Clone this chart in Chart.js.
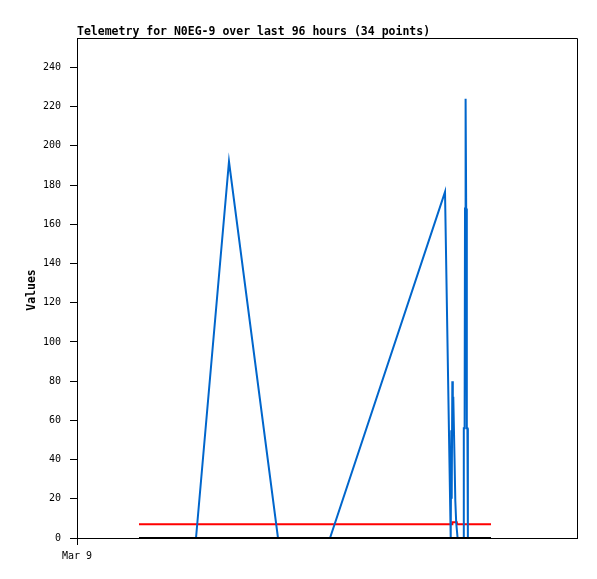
<!DOCTYPE html>
<html>
<head>
<meta charset="utf-8">
<title>Telemetry for N0EG-9</title>
<script src="https://cdn.jsdelivr.net/npm/chart.js@4/dist/chart.umd.min.js"></script>
<style>
  html, body { margin: 0; padding: 0; background: #fff; }
  canvas { display: block; }
</style>
</head>
<body>
<canvas id="chart" width="597" height="579"></canvas>
<script>
// hours since Mar 9 00:00 and readings
const blueX = [16.86, 32.37, 41.34, 54.67, 68.82, 100.10, 101.65, 101.81, 101.92, 102.09, 102.22, 102.35,
  102.68, 102.90, 103.14, 103.31, 103.52, 105.07, 105.21, 105.43, 105.54, 105.70, 105.86, 106.03,
  106.19, 106.32, 112.61];
const blueY = [0, 0, 192, 0, 0, 176.5, 0, 55, 20, 80, 60, 72,
  41, 19, 8, 8, 0, 0, 56, 56, 168, 224, 168, 56,
  56, 0, 0];
const redX = [16.86, 102.0, 102.1, 103.3, 103.4, 112.61];
const redY = [7, 7, 8, 8, 7, 7];
const blackX = [16.86, 112.61];
const blackY = [0, 0];
const xTickValues = [0];
const xTickLabels = ['Mar 9'];
const yTickValues = [0, 20, 40, 60, 80, 100, 120, 140, 160, 180, 200, 220, 240];

const toPoints = (xs, ys) => xs.map((x, i) => ({ x, y: ys[i] }));

// title, axis title and the plot frame
const decor = {
  id: 'decor',
  afterDraw(chart) {
    const { ctx, chartArea: a } = chart;
    ctx.save();
    ctx.strokeStyle = '#000';
    ctx.lineWidth = 1;
    ctx.beginPath();
    ctx.moveTo(a.left, a.top + 0.5);
    ctx.lineTo(a.right + 0.5, a.top + 0.5);
    ctx.lineTo(a.right + 0.5, a.bottom);
    ctx.stroke();

    ctx.fillStyle = '#000';
    ctx.font = 'bold 11.5px "DejaVu Sans Mono"';
    ctx.textAlign = 'left';
    ctx.textBaseline = 'alphabetic';
    ctx.fillText('Telemetry for N0EG-9 over last 96 hours (34 points)', 77, 35);

    ctx.translate(32, 290);
    ctx.rotate(-Math.PI / 2);
    ctx.textAlign = 'center';
    ctx.textBaseline = 'middle';
    ctx.fillText('Values', 0, 0);
    ctx.restore();
  }
};

new Chart(document.getElementById('chart'), {
  type: 'line',
  data: {
    datasets: [
      { data: toPoints(blackX, blackY), borderColor: '#000', borderWidth: 2 },
      { data: toPoints(blueX, blueY), borderColor: '#0066cc', borderWidth: 2 },
      { data: toPoints(redX, redY), borderColor: '#ff0000', borderWidth: 2 }
    ]
  },
  options: {
    responsive: false,
    animation: false,
    devicePixelRatio: 1,
    parsing: false,
    elements: { point: { radius: 0 }, line: { tension: 0 } },
    layout: { padding: { left: 0, top: 38, right: 20, bottom: 0 } },
    plugins: { legend: { display: false }, tooltip: { enabled: false } },
    scales: {
      x: {
        type: 'linear',
        min: 0,
        max: 136,
        afterBuildTicks: s => { s.ticks = xTickValues.map(v => ({ value: v })); },
        afterFit: s => { s.height = 41; },
        grid: { drawOnChartArea: false, drawTicks: true, tickLength: 7, color: '#000' },
        border: { display: true, color: '#000', width: 1 },
        ticks: {
          color: '#000',
          font: { family: 'DejaVu Sans Mono', size: 10 },
          padding: 5,
          maxRotation: 0,
          callback: v => xTickLabels[xTickValues.indexOf(v)] ?? ''
        }
      },
      y: {
        min: 0,
        max: 255,
        afterBuildTicks: s => { s.ticks = yTickValues.map(v => ({ value: v })); },
        afterFit: s => { s.width = 77; },
        grid: { drawOnChartArea: false, drawTicks: true, tickLength: 7, color: '#000' },
        border: { display: true, color: '#000', width: 1 },
        ticks: {
          color: '#000',
          font: { family: 'DejaVu Sans Mono', size: 10 },
          padding: 9
        }
      }
    }
  },
  plugins: [decor]
});
</script>
</body>
</html>
